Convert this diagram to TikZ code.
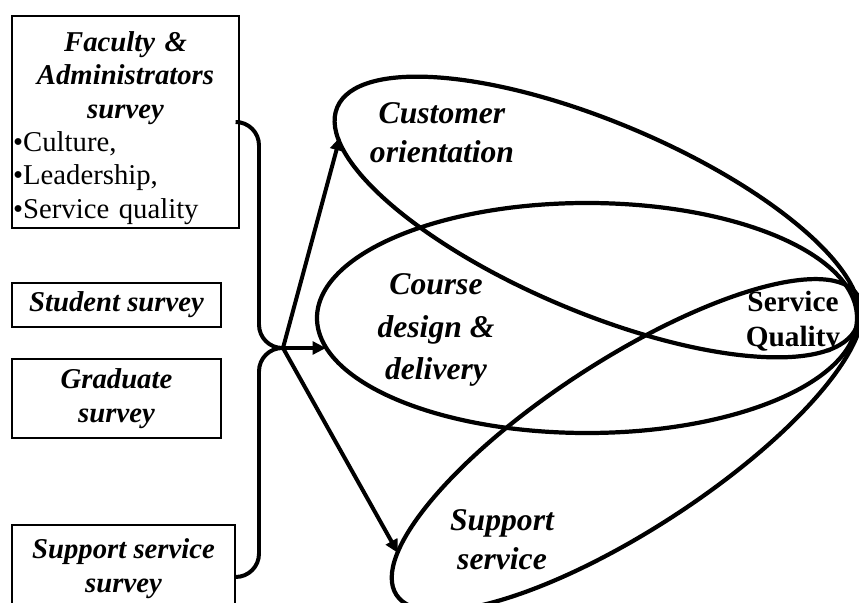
\documentclass[tikz,border=0pt]{standalone}
\usepackage{fontspec}
\setmainfont{Liberation Serif}
\usetikzlibrary{arrows.meta}

\tikzstyle{survey} = [draw, line width=0.9pt, inner sep=1pt, align=center, font=\fontsize{24.5}{29}\selectfont\bfseries\itshape]
\tikzstyle{ring} = [draw, line width=3.6pt]
\tikzstyle{link} = [draw, line width=3.4pt, rounded corners=0.7cm]
\tikzstyle{arrowline} = [draw, line width=3.4pt, -{Triangle[length=0.4cm,width=0.38cm]}]
\tikzstyle{dim} = [align=center, font=\fontsize{27}{33}\selectfont\bfseries\itshape]

\begin{document}
\begin{tikzpicture}
	\useasboundingbox (0,0) rectangle (25.77,18.06);
	% survey boxes
	\node (facbox) [survey, text width=6.74cm, minimum height=6.36cm, align=left, font=\fontsize{24.5}{28.5}\selectfont\bfseries\itshape] at (3.765,14.40) {{\centering\rule{0pt}{0.95cm}Faculty \&\\Administrators\\survey\par}\normalfont •Culture,\\•Leadership,\\•Service quality};
	\node (stubox) [survey, minimum width=6.27cm, minimum height=1.32cm] at (3.495,8.91) {Student survey};
	\node (gradbox) [survey, minimum width=6.27cm, minimum height=2.37cm] at (3.495,6.105) {Graduate\\survey};
	\node (supbox) [survey, minimum width=6.69cm, minimum height=2.64cm] at (3.705,0.99) {Support service\\survey};
	% dimensions
	\draw[ring, rotate around={-22.9:(17.91,11.55)}] (17.91,11.55) ellipse (8.46cm and 2.85cm);
	\draw[ring] (17.61,8.52) ellipse (8.1cm and 3.45cm);
	\draw[ring, rotate around={33:(18.81,4.71)}] (18.81,4.71) ellipse (8.25cm and 2.55cm);
	\node (custlbl) [dim] at (13.26,14.07) {Customer\\orientation};
	\node (courselbl) [dim, font=\fontsize{27}{36}\selectfont\bfseries\itshape] at (13.08,8.16) {Course\\design \&\\delivery};
	\node (supplbl) [dim] at (15.06,1.86) {Support\\service};
	\node (sqlbl) [align=center, font=\fontsize{25}{30}\selectfont\bfseries] at (23.79,8.4) {Service\\Quality};
	% connectors
	\coordinate (spine) at (7.77,7.62);
	\coordinate (hub) at (8.49,7.62);
	\coordinate (coTip) at (10.2,13.95);
	\coordinate (cdTip) at (9.78,7.62);
	\coordinate (ssTip) at (11.94,1.47);
	\path[link] (facbox.east) -| (spine) -- (hub);
	\path[link] ([yshift=-0.24cm]supbox.east) -| (spine) -- (hub);
	\path[arrowline] (hub) -- (coTip);
	\path[arrowline] (hub) -- (cdTip);
	\path[arrowline] (hub) -- (ssTip);
\end{tikzpicture}
\end{document}
